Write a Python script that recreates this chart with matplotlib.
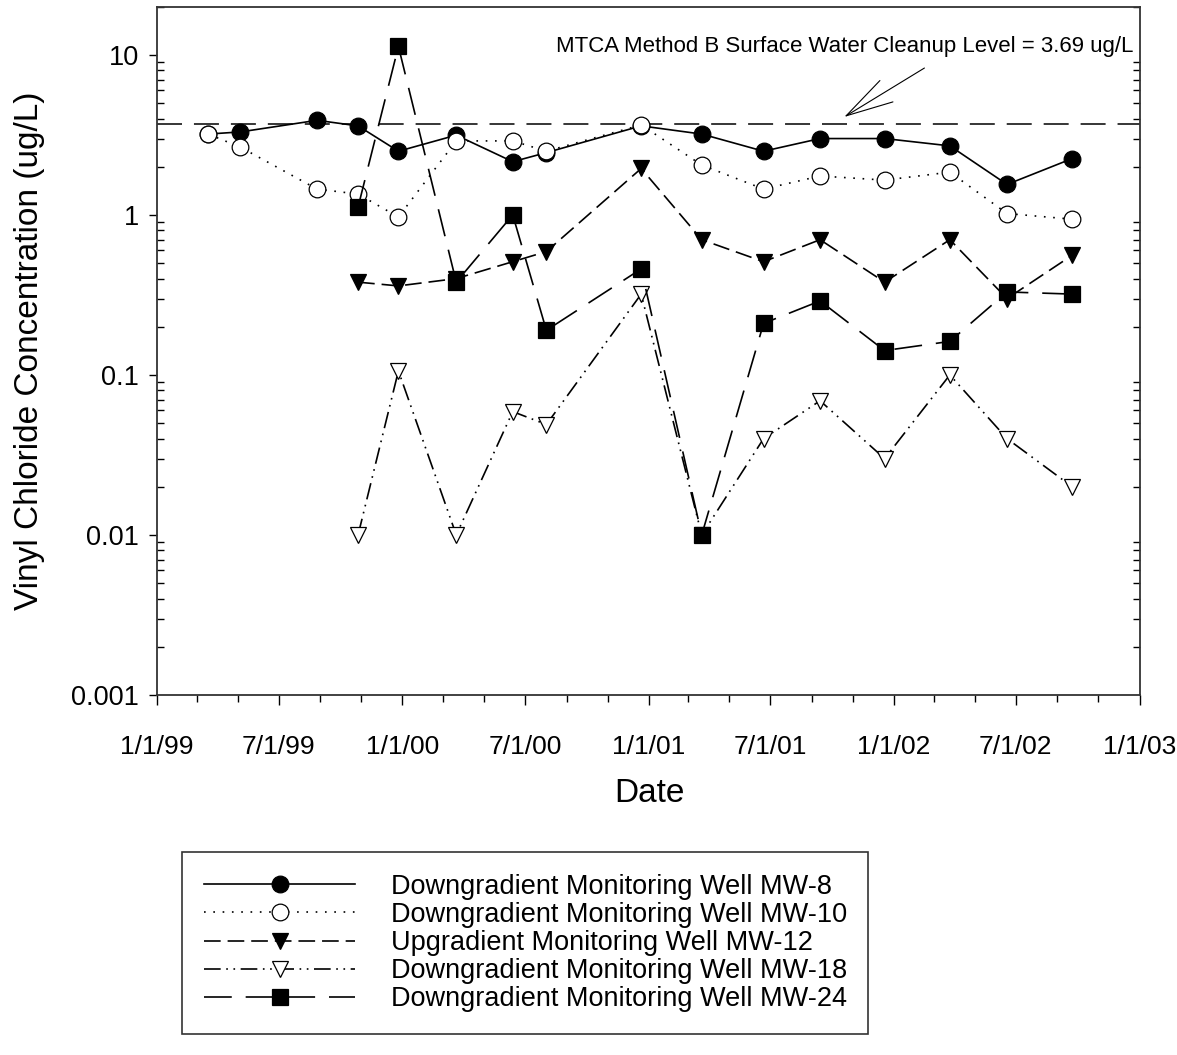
import matplotlib
matplotlib.use('Agg')
import matplotlib.pyplot as plt
import matplotlib.dates as mdates
import matplotlib.ticker as mticker
import numpy as np
import pandas as pd

plt.rcParams['font.family'] = ['Liberation Sans', 'DejaVu Sans']
plt.rcParams['lines.scale_dashes'] = False

nan = np.nan
sample_dates = ['1999-03-18', '1999-05-05', '1999-08-27', '1999-10-27', '1999-12-26',
                '2000-03-21', '2000-06-13', '2000-08-02', '2000-12-21', '2001-03-21',
                '2001-06-21', '2001-09-13', '2001-12-18', '2002-03-25', '2002-06-18',
                '2002-09-23']
mw8 = [3.2, 3.3, 3.9, 3.6, 2.5, 3.15, 2.15, 2.45, 3.6, 3.2, 2.5, 3.0, 3.0, 2.7, 1.55, 2.25]
mw10 = [3.2, 2.65, 1.45, 1.35, 0.97, 2.9, 2.9, 2.5, 3.65, 2.05, 1.45, 1.75, 1.65, 1.85, 1.02, 0.94]
mw12 = [nan, nan, nan, 0.38, 0.36, 0.40, 0.51, 0.59, 1.95, 0.70, 0.51, 0.70, 0.38, 0.70, 0.30, 0.56]
mw18 = [nan, nan, nan, 0.01, 0.106, 0.01, 0.059, 0.049, 0.32, 0.01, 0.04, 0.069, 0.03, 0.10, 0.04, 0.02]
mw24 = [nan, nan, nan, 1.12, 11.3, 0.38, 1.0, 0.19, 0.46, 0.01, 0.21, 0.29, 0.142, 0.162, 0.33, 0.32]
labels = ['Downgradient Monitoring Well MW-8', 'Downgradient Monitoring Well MW-10',
          'Upgradient Monitoring Well MW-12', 'Downgradient Monitoring Well MW-18',
          'Downgradient Monitoring Well MW-24']
cleanup_level = 3.69
cleanup_text = 'MTCA Method B Surface Water Cleanup Level = 3.69 ug/L'
ytick_vals = [0.001, 0.01, 0.1, 1, 10]

dates = pd.to_datetime(sample_dates)

W, H = 1177, 1055
fig = plt.figure(figsize=(W / 100, H / 100), dpi=100)
L, R, T, B = 157, 1139.5, 6.7, 695
ax = fig.add_axes([L / W, 1 - B / H, (R - L) / W, (B - T) / H])

lw = 1.2
ms_c, ms_t, ms_s = 12, 12, 11
mew = 0.9
styles = [
    dict(marker='o', mfc='black', mec='black', ms=ms_c, ls='-'),
    dict(marker='o', mfc='white', mec='black', ms=ms_c, dashes=(1.2, 5.5)),
    dict(marker='v', mfc='black', mec='black', ms=ms_t, dashes=(12, 5)),
    dict(marker='v', mfc='white', mec='black', ms=ms_t, dashes=(12, 4, 1.2, 4, 1.2, 4)),
    dict(marker='s', mfc='black', mec='black', ms=ms_s, dashes=(20, 10)),
]
series = [mw8, mw10, mw12, mw18, mw24]
handles = []
for vals, st, lab in zip(series, styles, labels):
    v = np.array(vals, dtype=float)
    m = ~np.isnan(v)
    h, = ax.plot(dates[m], v[m], color='black', lw=lw, mew=mew, label=lab, **st)
    handles.append(h)

ax.axhline(cleanup_level, color='black', lw=1.1, dashes=(18, 8.6), zorder=1)

ax.set_yscale('log')
ax.set_ylim(0.001, 20)
ax.set_xlim(pd.Timestamp('1999-01-01'), pd.Timestamp('2003-01-01'))

ax.yaxis.set_major_locator(mticker.FixedLocator(ytick_vals))
ax.yaxis.set_major_formatter(mticker.FuncFormatter(lambda v, p: '%g' % v))
ax.yaxis.set_minor_locator(mticker.LogLocator(base=10, subs=np.arange(2, 10)))
ax.yaxis.set_minor_formatter(mticker.NullFormatter())

ax.xaxis.set_major_locator(mdates.MonthLocator(bymonth=[1, 7], bymonthday=1))
ax.xaxis.set_minor_locator(mdates.MonthLocator(bymonth=[3, 5, 9, 11], bymonthday=1))
ax.xaxis.set_major_formatter(mticker.FuncFormatter(
    lambda x, p: (lambda d: f"{d.month}/{d.day}/{d.strftime('%y')}")(mdates.num2date(x))))

ax.tick_params(axis='y', which='major', direction='out', length=6, width=1,
               labelsize=19.5, pad=7, left=True, right=False)
ax.tick_params(axis='y', which='minor', direction='in', length=5, width=1,
               left=True, right=True)
ax.tick_params(axis='x', which='major', direction='out', length=7, width=1,
               labelsize=19, pad=22, top=False)
ax.tick_params(axis='x', which='minor', direction='out', length=5, width=1, top=False)
for s in ax.spines.values():
    s.set_linewidth(1.3)
    s.set_color('#333333')

ax.text(0.7004, 0.9415, cleanup_text, transform=ax.transAxes, fontsize=16,
        ha='center', va='center')
ax.annotate('', xy=(0.6995, 0.8398), xytext=(0.7811, 0.9109),
            xycoords='axes fraction', textcoords='axes fraction',
            arrowprops=dict(arrowstyle='->,head_length=3.4,head_width=0.9',
                            mutation_scale=10, lw=0.8, shrinkA=0, shrinkB=0,
                            color='black'))

fig.text(30 / W, 1 - 351 / H, 'Vinyl Chloride Concentration (ug/L)', rotation=90,
         fontsize=24, ha='center', va='center')
fig.text(649 / W, 1 - 793 / H, 'Date', fontsize=24, ha='center', va='center')

leg = fig.legend(handles, labels, loc='upper left', bbox_to_anchor=(182 / W, 1 - 852 / H),
                 frameon=True, fancybox=False, edgecolor='black', fontsize=19.5,
                 handlelength=5.6, handletextpad=1.3, borderpad=0.8, labelspacing=0.08,
                 numpoints=1, borderaxespad=0)
leg.get_frame().set_linewidth(1.2)

fig.savefig('out.png', dpi=100, facecolor='white')
